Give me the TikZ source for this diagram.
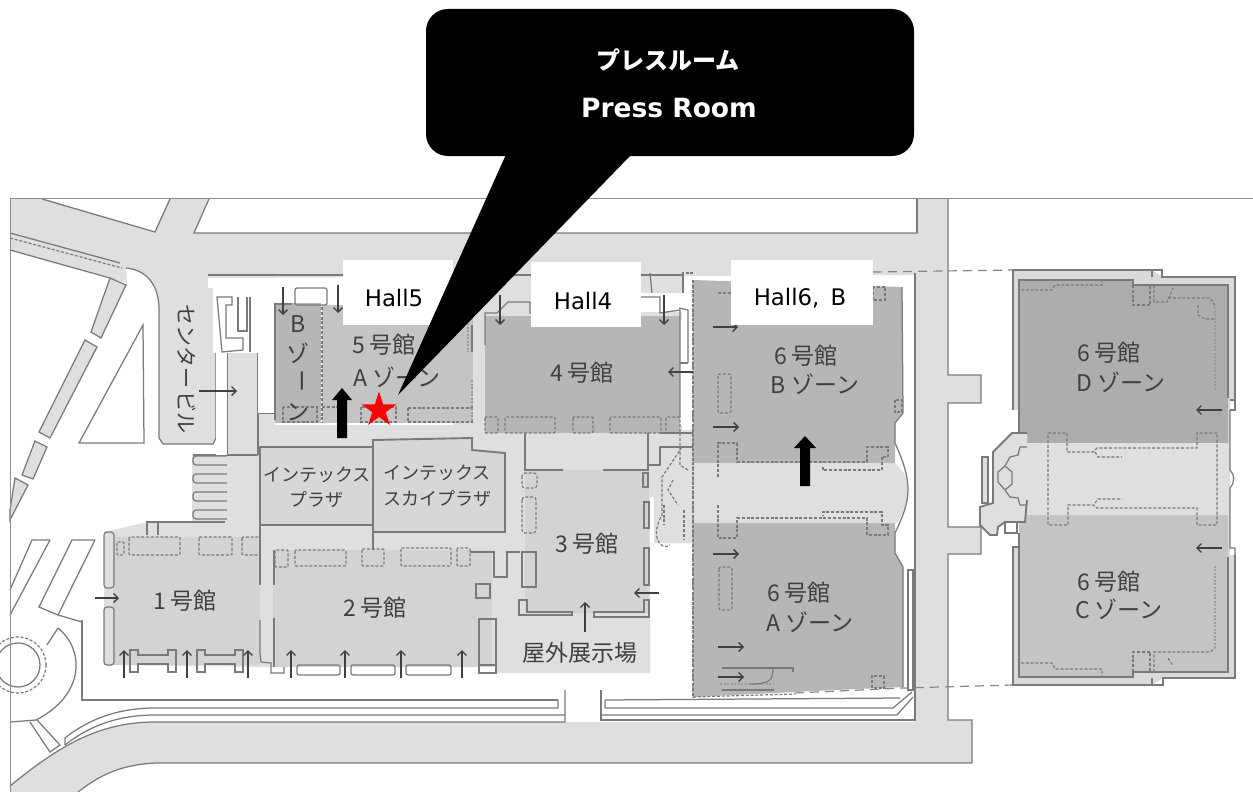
\documentclass[tikz,border=0pt]{standalone}
\usepackage{fontspec}
\setmainfont{DejaVu Sans}
\newfontfamily\jp{Noto Sans CJK JP}
\usetikzlibrary{arrows.meta,shapes.geometric}
\definecolor{road}{HTML}{DFDFDF}
\definecolor{hallA}{HTML}{D3D3D3}
\definecolor{hallB}{HTML}{C4C4C4}
\definecolor{hallC}{HTML}{B6B6B6}
\definecolor{wall}{HTML}{7A7A7A}
\definecolor{ink}{HTML}{404040}
\tikzset{
  wl/.style={draw=wall,line width=1.25pt},
  wlt/.style={draw=wall,line width=1.9pt},
  dsh/.style={draw=wall,line width=1.2pt,dash pattern=on 3pt off 1.8pt},
  dot/.style={draw=wall!75,line width=1.8pt,dash pattern=on 2pt off 1.5pt},
  lng/.style={draw=wall!90,line width=1.2pt,dash pattern=on 9pt off 6pt},
  arw/.style={draw=ink,line width=1.3pt,-{Straight Barb[length=4.5pt,width=9pt]}},
  lab/.style={text=ink,font=\jp\fontsize{23}{24}\selectfont,inner sep=0pt},
  lab2/.style={text=ink,font=\jp\fontsize{18}{22}\selectfont,inner sep=0pt},
  hall/.style={text=black,font=\fontsize{22.8}{24}\selectfont,inner sep=0pt},
  whitebox/.style={fill=white,draw=none},
  blk/.style={fill=black,draw=none}
}
\begin{document}
\begin{tikzpicture}[x=1pt,y=-1pt]
\useasboundingbox (0,0) rectangle (1253,792);
\fill[white] (0,0) rectangle (1253,792);
% ---------- roads and ground
\fill[road] (10,198) -- (42,198) -- (155,232) -- (170,198) -- (209,198) -- (194,233) -- (917,233) -- (917,198) -- (948,198) -- (948,375) -- (981,375) -- (981,403) -- (948,403) -- (948,527) -- (981,527) -- (981,554) -- (948,554) -- (948,720) -- (972,720) -- (972,763) -- (155,763) .. controls (120,765) and (100,775) .. (78,792) -- (10,792) -- (10,786) .. controls (60,745) and (105,722) .. (155,722) -- (915,722) -- (915,275) -- (216,278) -- (216,438) -- (213,444) -- (163,444) -- (159,438) -- (159,307) .. controls (158,285) and (147,270) .. (126,268) -- (127,283) -- (110,278) -- (10,250) -- cycle;
\fill[road] (227,353) -- (258,353) -- (258,413) -- (275,413) -- (275,425) -- (693,425) -- (693,543) -- (650,543) -- (650,673) -- (495,673) -- (495,667) -- (273,667) -- (104,665) -- (104,532) -- (147,522) -- (192,522) -- (192,455) -- (227,455) -- cycle;
\fill[road] (470,275) rectangle (684,320);
\fill[road] (453,275) rectangle (490,425);
\fill[white] (640,293) rectangle (684,312);
\fill[white] (682,312) rectangle (692,430);
\fill[white] (650,497) rectangle (654,543);
% strip segments on the left
\foreach \p in {{(110,278)--(126,285)--(101,338)--(91,332)},{(85,340)--(97,347)--(50,438)--(39,432)},{(35,441)--(47,447)--(33,479)--(22,475)},{(15,478)--(28,485)--(10,520)--(10,510)}}{
  \draw[wl,fill=road] \p -- cycle;}
\draw[wl] (143,325) -- (144,443) -- (79,443) -- cycle;
\draw[wl] (42,199) -- (155,232) -- (170,199);
\draw[wl] (209,199) -- (194,233) -- (917,233) -- (917,198);
\draw[wl] (10,233) -- (120,263);
\draw[dsh] (10,238) -- (122,268);
\draw[wl] (10,250) -- (110,278);
\draw[wl] (126,268) .. controls (147,270) and (158,285) .. (159,307) -- (159,438) -- (163,444) -- (213,444) -- (216,438) -- (216,293);
\draw[wl] (208,275) -- (683,275) -- (683,293);
\draw[wl] (227,353) -- (227,455);
\draw[wl] (258,297) -- (258,455);
\draw[wl] (258,413) -- (275,413);
% ---------- stairs
\foreach \y in {456,474,492,510}{\draw[wl,fill=road,rounded corners=3pt] (227,\y) -- (193,\y) -- (193,\y+9) -- (227,\y+9);}
\draw[wl] (193,455) -- (258,455);
% ---------- bottom and right roads
\draw[wl] (917,198) -- (917,233);
\draw[wl] (948,198) -- (948,375) -- (981,375) -- (981,403) -- (948,403) -- (948,527) -- (981,527) -- (981,554) -- (948,554) -- (948,720) -- (972,720) -- (972,763) -- (155,763) .. controls (120,765) and (100,775) .. (78,792);
\draw[wl] (915,273) -- (915,720) -- (601,720) -- (601,690);
\draw[wl] (565,690) -- (565,722) -- (155,722) .. controls (100,722) and (60,745) .. (10,786);
\draw[wl] (601,715) -- (897,715) -- (913,697);
\draw[wl] (565,715) -- (155,715) .. controls (120,715) and (90,725) .. (65,745);
\draw[wl] (558,700) -- (558,708) -- (155,708) .. controls (120,708) and (90,718) .. (65,738) -- (65,745);
\draw[wl] (82,620) -- (82,700) -- (558,700);
\draw[wl] (605,700) -- (605,708) -- (893,708) -- (912,692);
\draw[wl] (605,700) -- (900,698);
% ---------- parking and roundabout
\draw[wl] (95,540) -- (72,540) -- (39,607) -- (58,615) -- (82,622);
\draw[wl] (95,540) -- (58,615);
\draw[wl] (50,540) -- (32,540) -- (10,590);
\draw[wl] (10,615) -- (50,540);
\draw[wl] (58,628) .. controls (85,650) and (85,695) .. (36,720) -- (10,722);
\draw[dsh] (18,665) circle[radius=28pt];
\draw[wl] (18,665) circle[radius=22pt];
\draw[wl] (58,628) -- (47,645);
\draw[wl] (30,722) -- (50,752) -- (60,745) -- (37,720);
% ---------- halls
\fill[hallA] (113,537) rectangle (260,665);
\fill[hallA] (273,550) rectangle (492,667);
\fill[hallA] (525,470) rectangle (649,613);
\fill[hallB] (322,305) rectangle (473,423);
\fill[hallC] (275,303) rectangle (321,423);
\fill[hallC] (485,316) rectangle (680,433);
\fill[white] (213,278) rectangle (275,353);
\fill[white] (258,353) rectangle (275,413);
\fill[white] (208,278) rectangle (343,288);
\fill[white] (275,288) rectangle (343,303);
\fill[white] (216,353) rectangle (227,455);
% Hall 6
\fill[hallC] (693,280) -- (902,287) -- (903,413) -- (895,423) -- (895,463) -- (693,463) -- cycle;
\fill[road] (693,463) -- (895,463) .. controls (905,472) and (908,480) .. (908,490) .. controls (908,505) and (902,515) .. (897,523) -- (693,523) -- cycle;
\fill[hallC] (693,523) -- (895,523) -- (895,553) -- (903,567) -- (903,687) -- (835,690) -- (693,697) -- cycle;
\draw[wl] (902,287) -- (903,413) -- (895,423) -- (895,443) .. controls (905,465) and (908,478) .. (908,490) .. controls (908,505) and (902,518) .. (895,533) -- (895,553) -- (903,567) -- (903,687);
\draw[wl] (908,570) rectangle (913,690);
\draw[dot] (693,280) -- (693,697);
\draw[dsh] (693,280) -- (693,697);
\draw[dsh] (718,477) -- (718,443) -- (737,443) -- (737,462) -- (867,462) -- (867,447) -- (888,447) -- (888,457) -- (882,457) -- (882,470) -- (823,470) -- (823,466);
\draw[dsh] (718,505) -- (718,538) -- (737,538) -- (737,518) -- (867,518) -- (867,535) -- (888,535) -- (888,525) -- (882,525) -- (882,512) -- (823,512) -- (823,516);
\draw[dsh,rounded corners=2pt] (718,374) rectangle (731,413);
\draw[dsh,rounded corners=2pt] (719,567) rectangle (732,610);
\draw[dsh] (718,293) -- (745,293);
\draw[dot] (720,684) -- (774,684);
\draw[wl] (722,690) -- (774,690);
\draw[wl] (722,668) -- (793,668) -- (793,672);
\draw[wl] (773,668) .. controls (773,680) and (770,684) .. (750,684);
\draw[dsh] (873,287) rectangle (885,300);
\draw[dsh] (895,400) rectangle (902,412);
\draw[dsh] (872,688) rectangle (884,676);
\draw[dsh] (693,697) -- (795,694);
\draw[lng] (795,693) -- (903,688) -- (1013,685);
\draw[lng] (873,272) -- (1013,270);
\draw[dsh] (683,280) -- (683,273) -- (693,273);
% ---------- hall 5 details
\draw[wl] (217,297) -- (232,297) -- (232,305) -- (226,305) -- (226,338) -- (243,338) -- (243,350) -- (222,352) -- cycle;
\draw[wl] (238,297) -- (238,331) -- (247,331) -- (247,297);
\draw[wl] (250,297) -- (250,352);
\draw[wl] (275,303) -- (275,420);
\draw[wl] (275,304) -- (292,304);
\draw[wl,rounded corners=2pt] (295,288) rectangle (327,305);
\draw[dsh] (322,307) -- (322,423);
\draw[dsh] (283,407) rectangle (317,422);
\draw[dsh] (322,407) -- (345,407) -- (345,422);
\draw[dsh] (361,407) rectangle (396,422);
\draw[dsh] (408,408) -- (473,408);
\draw[dsh] (408,408) -- (408,422) -- (473,422);
\draw[dot] (472,380) -- (472,422);
\draw[dot] (468,323) -- (468,352);
\draw[wl] (472,325) -- (472,352);
% ---------- plazas
\fill[hallA!70!road] (260,446) rectangle (372,525);
\draw[wlt] (260,447) rectangle (373,525);
\fill[hallA!70!road] (373,440) -- (472,438) -- (472,450) -- (505,453) -- (505,532) -- (373,532) -- cycle;
\draw[wlt] (373,550) -- (373,440) -- (472,438) -- (472,450) -- (505,453) -- (505,532) -- (373,532);
% ---------- hall 4 details
\foreach \a/\b in {485/498,505/555,573/593,610/661,666/680}{\draw[dsh,rounded corners=1pt] (\a,417) rectangle (\b,433);}
\draw[wl] (485,345) -- (485,313) -- (497,313) -- (508,302) -- (530,302) -- (530,313) -- (640,313);
\draw[wl] (640,297) -- (660,297) -- (660,313) -- (680,310) -- (680,418);
\draw[wl] (650,273) -- (652,293);
\draw[wl] (679,308) -- (688,310) -- (688,363);
\draw[wl] (680,363) -- (688,363);
\draw[wl] (525,433) -- (525,470) -- (563,470);
\draw[wl] (603,470) -- (648,470) -- (648,433);
\draw[wl] (648,465) -- (660,465) -- (660,447) -- (693,447);
\draw[wl] (660,433) -- (693,433);
% ---------- hall 3 details
\draw[dsh,rounded corners=3pt] (522,473) rectangle (537,488);
\draw[dsh,rounded corners=3pt] (522,497) rectangle (536,533);
\draw[wl] (522,552) rectangle (536,587);
\draw[wl] (643,473) rectangle (648,487);
\draw[wl] (644,502) rectangle (649,528);
\draw[wl] (644,548) rectangle (649,585);
\draw[wlt] (519,600) -- (519,615) -- (572,615) -- (572,612) -- (527,612) -- (527,600) -- cycle;
\draw[wlt] (594,612) -- (594,617) -- (649,617) -- (649,600) -- (644,600) -- (644,612) -- cycle;
\draw[dsh] (682,447) -- (662,477) -- (662,515) .. controls (650,535) and (660,552) .. (670,545);
\draw[dsh] (673,480) -- (668,490) -- (678,505);
\draw[dsh] (680,433) -- (680,465) -- (688,470);
\draw[dsh] (664,505) -- (664,525);
\draw[dsh] (684,510) -- (684,540);
% ---------- halls 1, 2 details
\draw[wl,rounded corners=3pt] (104,532) rectangle (114,588);
\draw[wl,rounded corners=3pt] (104,607) rectangle (114,665);
\draw[wl] (147,535) -- (147,522) -- (225,522);
\draw[wl] (158,522) -- (158,535);
\foreach \a/\b/\c/\d in {117/542/124/555,129/537/180/555,199/537/232/555,242/537/260/555,275/550/288/567,295/550/346/566,362/549/384/566,401/548/451/566,457/548/470/566}{\draw[dsh,rounded corners=1pt] (\a,\b) rectangle (\c,\d);}
\draw[wl] (260,525) -- (260,585);
\draw[wl] (274,550) -- (274,585);
\draw[wl] (260,620) -- (260,653) -- (261,662) -- (271,663) -- (271,673) -- (284,673) -- (284,667);
\draw[wl] (274,618) -- (274,667);
\draw[wl] (470,552) -- (494,552) -- (494,577) -- (507,577) -- (507,552) -- (520,552);
\foreach \s in {0,67}{\draw[wl] (130+\s,650) -- (138+\s,650) -- (138+\s,655) -- (168+\s,655) -- (168+\s,650) -- (176+\s,650) -- (176+\s,672) -- (168+\s,672) -- (168+\s,664) -- (138+\s,664) -- (138+\s,672) -- (130+\s,672) -- cycle;}
\foreach \a/\b in {297/340,351/395,406/451}{\draw[wl,rounded corners=2pt] (\a,665) rectangle (\b,675);}
\draw[wl] (479,619) rectangle (496,673);
\draw[wlt] (479,665) -- (496,665);
\draw[wl] (476,584) rectangle (490,598);
% ---------- right building
\fill[road!80!hallB] (1013,270) -- (1152,270) -- (1163,277) -- (1235,277) -- (1235,400) -- (1230,400) -- (1230,555) -- (1235,555) -- (1235,678) -- (1163,678) -- (1152,685) -- (1013,685) -- (1013,547) -- (1019,547) -- (1019,410) -- (1013,410) -- cycle;
\fill[hallC!95!black] (1019,280) -- (1133,280) -- (1133,285) -- (1228,285) -- (1228,443) -- (1019,443) -- cycle;
\fill[road] (1019,443) rectangle (1229,515);
\fill[hallB] (1019,515) -- (1228,515) -- (1228,672) -- (1133,672) -- (1133,677) -- (1019,677) -- cycle;
\draw[wlt] (1013,410) -- (1013,270) -- (1152,270) -- (1152,277);
\draw[wlt,line width=2.4pt] (1013,273) -- (1013,410);
\draw[wl] (1152,270) -- (1162,270) -- (1162,277) -- (1235,277) -- (1235,400) -- (1230,400) -- (1235,400) -- (1235,410) -- (1230,410);
\draw[wl] (1019,410) -- (1019,280) -- (1133,280) -- (1133,285) -- (1228,285) -- (1228,398);
\draw[wl] (1230,410) -- (1230,470) .. controls (1235,475) and (1235,482) .. (1230,488) -- (1230,548) -- (1235,548) -- (1235,555);
\draw[wl] (1228,557) -- (1228,672) -- (1133,672) -- (1133,677) -- (1019,677) -- (1019,547) -- (1013,547) -- (1013,685) -- (1152,685);
\draw[wlt] (1013,685) -- (1152,685) -- (1152,678);
\draw[wl] (1152,685) -- (1163,685) -- (1163,678) -- (1235,678) -- (1235,555);
\draw[wl] (1019,410) -- (1019,433);
\draw[wl] (1019,533) -- (1019,547);
\draw[dsh] (1048,433) -- (1067,433) -- (1067,452) -- (1093,452) -- (1097,448) -- (1197,448) -- (1197,433) -- (1217,433) -- (1217,525) -- (1197,525) -- (1197,508) -- (1097,508) -- (1093,505) -- (1068,505) -- (1068,525) -- (1048,525) -- cycle;
\draw[dsh] (1095,452) -- (1098,457) -- (1122,457);
\draw[dsh] (1095,503) -- (1098,499) -- (1122,499);
\draw[dsh] (1021,290) -- (1052,290) -- (1055,285) -- (1102,285) -- (1102,280);
\draw[dsh] (1133,285) -- (1133,305) -- (1150,305) -- (1150,285);
\draw[dsh] (1154,285) -- (1154,302) -- (1167,302) -- (1173,288);
\draw[dsh] (1168,298) -- (1210,298) -- (1216,307);
\draw[dot] (1215,307) -- (1215,390);
\draw[dsh] (1198,305) -- (1198,315) -- (1205,319) -- (1215,319);
\draw[dsh] (1021,663) -- (1052,663) -- (1055,669) -- (1102,669) -- (1102,677);
\draw[dsh] (1133,672) -- (1133,652) -- (1150,652) -- (1150,672);
\draw[dsh] (1154,672) -- (1154,652) -- (1210,652) -- (1215,648);
\draw[dot] (1215,648) -- (1215,565);
\draw[dsh] (1168,658) -- (1173,666);
% ornament at the left of the right building
\draw[wlt,fill=road] (1027,433) -- (1012,433) -- (993,452) -- (993,503) -- (980,507) -- (980,525) -- (990,535) -- (997,535) -- (998,527) -- (1005,522) -- (1025,522) -- (1027,500);
\draw[wl,fill=road] (982,457) rectangle (988,503);
\draw[wl,fill=white] (1005,522) rectangle (1017,533);
\draw[wl] (1027,447) -- (1020,447) -- (1018,455) -- (1010,457) -- (1005,466) -- (998,472) -- (998,482) -- (1005,490) -- (1010,497) -- (1018,498) -- (1020,505) -- (1027,505);
\draw[wl] (1005,466) -- (1012,472) -- (1012,484) -- (1005,490);
% ---------- thin arrows
\foreach \a/\b/\c/\d in {283/287/283/315,338/285/338/313,199/391/237/391,500/295/500/325,664/295/664/325,693/372/668/372,585/632/585/602,659/593/634/593,95/598/119/598,124/678/124/650,187/678/187/650,248/678/248/650,291/678/291/650,345/678/345/650,401/678/401/650,462/678/462/650,713/427/739/427,713/327/738/327,713/554/739/554,718/647/744/647,718/677/744/677,1222/410/1196/410,1222/548/1196/548}{
  \draw[arw] (\a,\b) -- (\c,\d);}
% ---------- labels
\node[lab] (lA) at (384,345) {5 号館};
\node[lab] (lB) at (397,377) {A ゾーン};
\node[lab] (lB1) at (298,324) {B};
\node[lab] (lB2) at (298,353) {ゾ};
\node[lab,rotate=-90] (lB3) at (298,381) {ー};
\node[lab] (lB4) at (298,412) {ン};
\node[lab,rotate=-90,font=\jp\fontsize{21}{24}\selectfont] (ctr) at (187,369) {センター\,ビル};
\node[lab] (l4) at (582,373) {4 号館};
\node[lab] (l3) at (587,544) {3 号館};
\node[lab] (l2) at (375,608) {2 号館};
\node[lab] (l1) at (185,601) {1 号館};
\node[lab2] (p1) at (317,475) {インテックス};
\node[lab2] (p2) at (316,500) {プラザ};
\node[lab2] (s1) at (437,473) {インテックス};
\node[lab2] (s2) at (437,499) {スカイプラザ};
\node[lab,font=\jp\fontsize{23}{24}\selectfont] (out) at (580,653) {屋外展示場};
\node[lab] (b1) at (806,356) {6 号館};
\node[lab] (b2) at (815,384) {B ゾーン};
\node[lab] (a1) at (799,593) {6 号館};
\node[lab] (a2) at (810,622) {A ゾーン};
\node[lab] (d1) at (1109,353) {6 号館};
\node[lab] (d2) at (1121,382) {D ゾーン};
\node[lab] (c1) at (1109,582) {6 号館};
\node[lab] (c2) at (1119,609) {C ゾーン};
% ---------- frame
\draw[draw=wall!85,line width=1pt] (10,792) -- (10,198) -- (1253,198);
% ---------- block arrows and star
\fill[blk] (342,388) -- (352,400) -- (347,400) -- (347,438) -- (337,438) -- (337,400) -- (332,400) -- cycle;
\fill[blk] (805,436) -- (816,448) -- (810,448) -- (810,486) -- (800,486) -- (800,448) -- (794,448) -- cycle;
\node[star,star points=5,star point ratio=2.618,fill=red,draw=none,minimum size=37pt,inner sep=0pt] (st) at (379,410) {};
% ---------- white hall labels
\fill[whitebox] (343,260) rectangle (453,325);
\fill[whitebox] (531,262) rectangle (641,327);
\fill[whitebox] (731,260) rectangle (873,325);
\node[hall] (h5) at (394,298) {Hall5};
\node[hall] (h4) at (583,301) {Hall4};
\node[hall] (h6) at (800,298) {Hall6,\hspace{4pt} B};
% ---------- callout
\fill[blk,rounded corners=22pt] (426,9) rectangle (914,156);
\fill[blk] (508,150) -- (630,150) -- (630,156) -- (398,395) -- cycle;
\node[text=white,font=\jp\bfseries\fontsize{24}{28}\selectfont,inner sep=0pt] (c1t) at (668,60) {プレスルーム};
\node[text=white,font=\bfseries\fontsize{26.5}{28}\selectfont,inner sep=0pt] (c2t) at (669,108) {Press Room};
\end{tikzpicture}
\end{document}
